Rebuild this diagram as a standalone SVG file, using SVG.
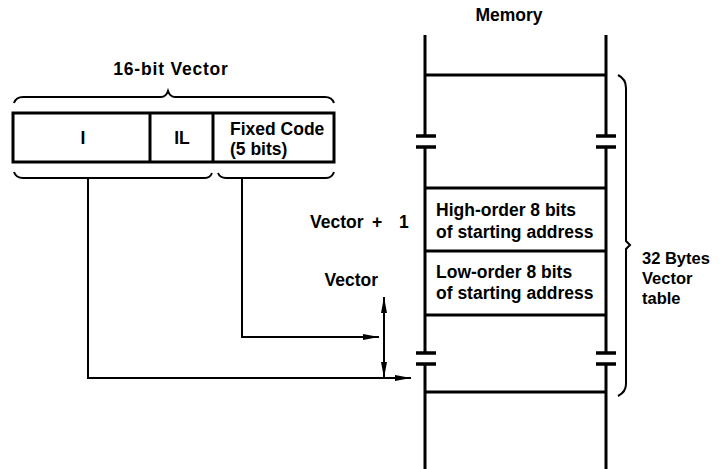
<svg xmlns="http://www.w3.org/2000/svg" width="728" height="469" viewBox="0 0 728 469">
<style>
text{font-family:"Liberation Sans",Arial,sans-serif;font-weight:bold;font-size:17.5px;fill:#000}
text.side{font-size:16.5px}
.thick{stroke:#000;stroke-width:3;fill:none}
.thin{stroke:#000;stroke-width:2;fill:none}
.brk{stroke:#000;stroke-width:3.5;fill:none}
</style>
<defs>
<marker id="ah" markerUnits="userSpaceOnUse" markerWidth="17" markerHeight="9" refX="16" refY="4.5" orient="auto">
<path d="M0,1.5 L16,4.5 L0,7.5 z" fill="#000"/>
</marker>
</defs>
<rect width="728" height="469" fill="#fff"/>

<g id="vector-word">
<text x="171" y="75" text-anchor="middle" letter-spacing="0.8">16-bit Vector</text>
<path class="thin" d="M14,103 Q16,97 23,97 L161,97 Q166,97 168,91 Q170,97 175,97 L325,97 Q332,97 334,103"/>
<rect class="thick" x="13" y="113" width="321" height="49"/>
<line class="thick" x1="150" y1="113" x2="150" y2="162"/>
<line class="thick" x1="213" y1="113" x2="213" y2="162"/>
<text x="83" y="144" text-anchor="middle">I</text>
<text x="182" y="144" text-anchor="middle">IL</text>
<text x="230" y="135">Fixed Code</text>
<text x="230" y="155">(5 bits)</text>
<path class="thin" d="M14,172 Q16,178 23,178 L205,178 Q210,178 212,173"/>
<path class="thin" d="M218,173 Q220,178 226,178 L326,178 Q332,178 334,172"/>
</g>

<g id="memory">
<text x="509" y="21" text-anchor="middle">Memory</text>
<path class="thick" d="M425,35 V136 M425,147 V353 M425,364 V469"/>
<path class="thick" d="M606,35 V136 M606,147 V353 M606,364 V469"/>
<path class="brk" d="M416,136 H436 M416,147 H436 M596,136 H616 M596,147 H616"/>
<path class="brk" d="M416,353 H436 M416,364 H436 M596,353 H616 M596,364 H616"/>
<path class="thick" d="M425,75 H606 M425,188 H606 M425,251 H606 M425,315 H606 M425,392 H606"/>
</g>

<g id="high-byte">
<text x="436" y="216">High-order 8 bits</text>
<text x="436" y="238">of starting address</text>
</g>
<g id="low-byte">
<text x="436" y="278">Low-order 8 bits</text>
<text x="436" y="299">of starting address</text>
</g>

<g id="table-brace">
<path class="thin" d="M618,75 Q626,79 626,88 L626,241 L630,245 L626,249 L626,384 Q626,392 618,396"/>
<text class="side" x="642" y="264">32 Bytes</text>
<text class="side" x="642" y="284">Vector</text>
<text class="side" x="642" y="304">table</text>
</g>

<g id="labels">
<text y="228"><tspan x="310">Vector</tspan><tspan x="372">+</tspan><tspan x="399">1</tspan></text>
<text x="378" y="286" text-anchor="end">Vector</text>
</g>

<g id="connectors">
<path class="thin" d="M88,178 V378 H411" marker-end="url(#ah)"/>
<path class="thin" d="M242,178 V337 H379" marker-end="url(#ah)"/>
<path class="thin" d="M384,338 V297" marker-end="url(#ah)"/>
<path class="thin" d="M384,338 V378" marker-end="url(#ah)"/>
</g>
</svg>
